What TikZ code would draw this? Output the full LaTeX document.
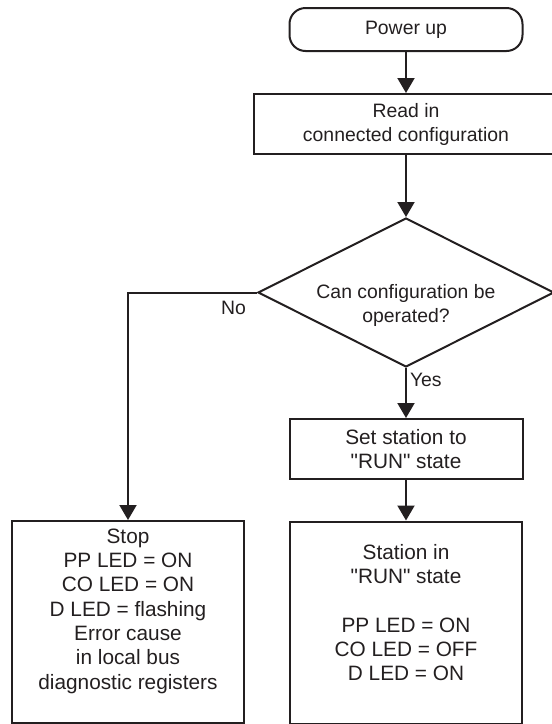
\documentclass[tikz,border=0pt]{standalone}
\usepackage{fontspec}
\setmainfont{Liberation Sans}
\usepackage{xcolor}
\usepackage{tikz}
\usetikzlibrary{arrows.meta,shapes.geometric}

\definecolor{ink}{RGB}{35,31,32}
\newcommand{\qq}[1]{\textquotedbl#1\textquotedbl}

\begin{document}
\begin{tikzpicture}[x=0.5pt,y=0.5pt,yscale=-1,xscale=1,
  every node/.style={text=ink},
  smalltxt/.style={font=\fontsize{9.7}{12}\selectfont},
  bigtxt/.style={font=\fontsize{10.4}{12.15}\selectfont},
  termbox/.style={draw=ink,line width=1pt,rectangle,rounded corners=8pt,minimum width=116.5pt,minimum height=21.5pt,smalltxt},
  procbox/.style={draw=ink,line width=1pt,rectangle,align=center,minimum height=30pt,inner sep=0pt},
  decbox/.style={draw=ink,line width=1pt,diamond,aspect=1.97,minimum width=148pt,minimum height=74.5pt,inner sep=0pt},
  endbox/.style={draw=ink,line width=1pt,rectangle,minimum width=116pt,minimum height=101pt,inner sep=0pt},
  boxtxt/.style={align=center,inner sep=0pt,bigtxt},
  flow/.style={draw=ink,line width=1pt,-{Triangle[length=7.5pt,width=8.5pt]}}]
\useasboundingbox (0,0) rectangle (552,724);

% Boxes
\node[termbox] (pwr) at (406,29.5) {Power up};
\node[procbox,smalltxt,minimum width=152pt] (read) at (406,124) {Read in\\connected configuration};
\node[decbox] (dec) at (406,292.5) {};
\node[procbox,bigtxt,minimum width=116.5pt] (setrun) at (406,449) {Set station to\\\qq{RUN} state};
\node[endbox] (stop) at (128,622) {};
\node[endbox] (runst) at (406,622.5) {};

% Text Node
\node[align=center,inner sep=0pt,smalltxt] (dectxt) at (406,305.5) {Can configuration be\\operated?};
% Text Node
\node[boxtxt] (stoptxt) at (128,611) {Stop\\PP LED = ON\\CO LED = ON\\D LED = flashing\\Error cause\\in local bus\\diagnostic registers};
% Text Node
\node[boxtxt] (runtxt) at (406,612.5) {Station in\\\qq{RUN} state\\[12.15pt]PP LED = ON\\CO LED = OFF\\D LED = ON};

%Straight Lines
\draw[flow] (pwr.south) -- (read.north);
\draw[flow] (read.south) -- (dec.north);
\draw[flow] (dec.south) -- node[pos=0,anchor=north west,inner sep=0pt,xshift=1.5pt,yshift=-2pt,smalltxt] (yes) {Yes} (setrun.north);
\draw[flow] (setrun.south) -- (runst.north);
\draw[flow] (dec.west) -| node[pos=0,anchor=north east,inner sep=0pt,xshift=-5pt,yshift=-4pt,smalltxt] (no) {No} (stop.north);

\end{tikzpicture}
\end{document}
